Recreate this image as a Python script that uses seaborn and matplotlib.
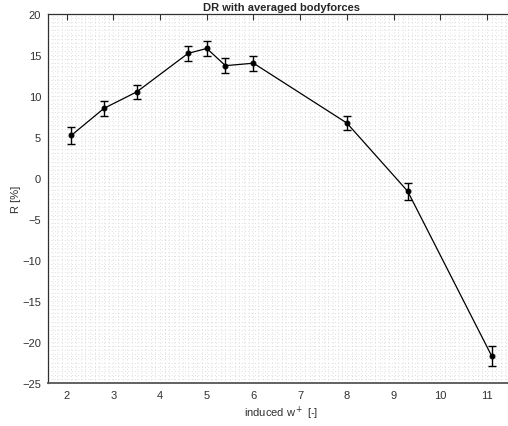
import numpy as np
import pandas as pd
import matplotlib
matplotlib.use("Agg")
import matplotlib.pyplot as plt
import seaborn as sns
from matplotlib.ticker import MultipleLocator

# Induced spanwise velocity (wall units) and drag reduction with uncertainty
w_plus = [2.1, 2.8, 3.5, 4.6, 5.0, 5.4, 6.0, 8.0, 9.3, 11.1]
dr_pct = [5.2, 8.5, 10.5, 15.2, 15.8, 13.7, 14.0, 6.7, -1.6, -21.7]
dr_err = [1.0, 0.95, 0.9, 0.95, 0.9, 0.9, 0.9, 0.9, 1.05, 1.25]
x_ticks = [2, 3, 4, 5, 6, 7, 8, 9, 10, 11]
y_ticks = [-25, -20, -15, -10, -5, 0, 5, 10, 15, 20]

df = pd.DataFrame({"w": w_plus, "R": dr_pct, "err": dr_err})

sns.set_style("white")
plt.rcParams["font.family"] = ["Liberation Sans", "DejaVu Sans"]

fig = plt.figure(figsize=(5.08, 4.27), dpi=100)
W, H = 508, 427
ax = fig.add_axes([48 / W, 43 / H, 467 / W, 369 / H])

ax.errorbar(df["w"], df["R"], yerr=df["err"], fmt="none", ecolor="black",
            elinewidth=1.0, capsize=3.2, capthick=1.0, zorder=3)
sns.lineplot(data=df, x="w", y="R", ax=ax, color="black", linewidth=0.9,
             marker="o", markersize=3.5, markeredgecolor="black", zorder=4)

ax.set_xlim(1.6, 11.6)
ax.set_ylim(-25, 20)
ax.set_xticks(x_ticks)
ax.set_yticks(y_ticks)
ax.xaxis.set_minor_locator(MultipleLocator(0.1))
ax.yaxis.set_minor_locator(MultipleLocator(0.5))
ax.grid(which="both", linestyle=(0, (1, 3)), color="#d4d4d4", linewidth=0.6)
ax.tick_params(which="major", direction="in", length=4, width=0.8,
               top=True, right=True, labelsize=8, labelcolor="#303030",
               colors="#303030", pad=5)
ax.tick_params(which="minor", length=0)
for s in ax.spines.values():
    s.set_color("#303030")
    s.set_linewidth(0.9)
ax.spines["bottom"].set_linewidth(1.3)
ax.spines["bottom"].set_color("#555555")

ax.set_title("DR with averaged bodyforces", fontsize=8, fontweight="bold", pad=3)
ax.set_xlabel("induced w$^+$ [-]", fontsize=8, color="#303030", labelpad=3)
ax.set_ylabel("R [%]", fontsize=8, color="#303030", labelpad=1)

fig.savefig("out.png", dpi=100)
